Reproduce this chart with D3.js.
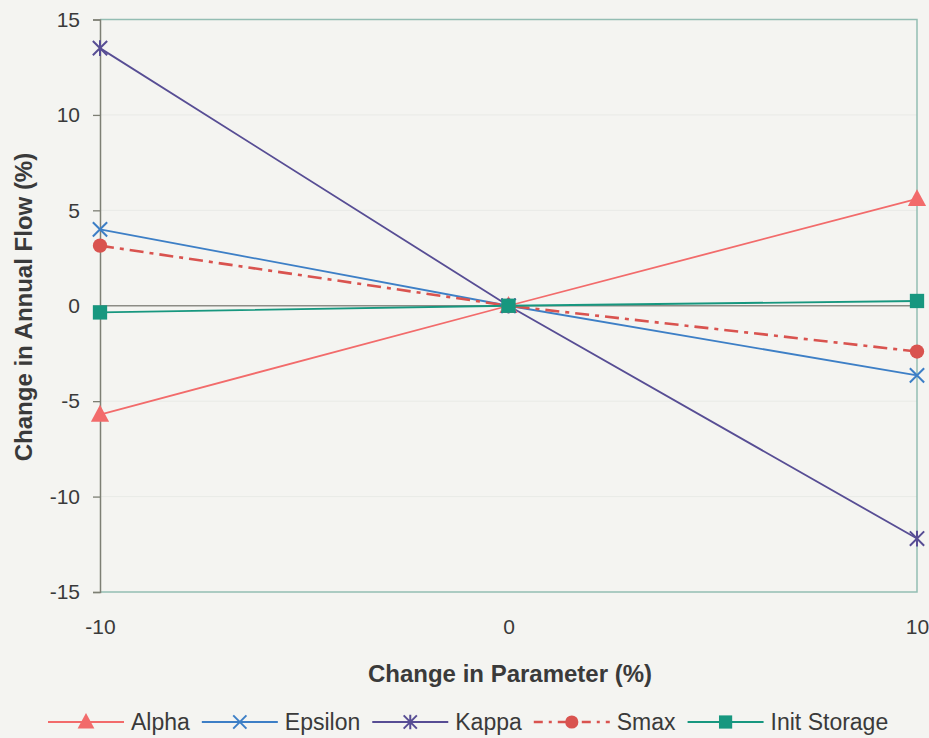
<!DOCTYPE html>
<html><head><meta charset="utf-8">
<script src="https://cdn.jsdelivr.net/npm/d3@7"></script>
<style>body{margin:0;background:#f4f4f1;}svg{display:block;}</style>
</head><body><svg id="c" width="929" height="738"></svg>
<script>
const xValues = [-10, 0, 10];
const alpha = [-5.7, 0, 5.6];
const epsilon = [4.0, 0, -3.65];
const kappa = [13.5, 0, -12.2];
const smax = [3.15, 0, -2.4];
const initStorage = [-0.35, 0, 0.25];
const seriesNames = ["Alpha", "Epsilon", "Kappa", "Smax", "Init Storage"];
const yTicks = [-15, -10, -5, 0, 5, 10, 15];
const xTicks = [-10, 0, 10];

const series = [
  {name: seriesNames[0], values: alpha, color: "#f26b6b", marker: "triangle", dash: null},
  {name: seriesNames[1], values: epsilon, color: "#3d7fc6", marker: "x", dash: null},
  {name: seriesNames[2], values: kappa, color: "#574d94", marker: "star", dash: null},
  {name: seriesNames[3], values: smax, color: "#d9534f", marker: "circle", dash: "14,6,4,6"},
  {name: seriesNames[4], values: initStorage, color: "#17977f", marker: "square", dash: null}
];

const FONT = "Liberation Sans, Arial, sans-serif";
const fmt = d => String(d);
const svg = d3.select("#c");
const x = d3.scaleLinear().domain([-10, 10]).range([100, 917]);
const y = d3.scaleLinear().domain([-15, 15]).range([592, 19.5]);

// faint gridlines
svg.append("g").selectAll("line").data(yTicks.filter(d => d !== 0 && d !== 15 && d !== -15)).join("line")
  .attr("x1", x(-10)).attr("x2", x(10)).attr("y1", d => y(d)).attr("y2", d => y(d))
  .attr("stroke", "#e8eae6").attr("stroke-width", 1);

// border top/right/bottom
svg.append("path").attr("d", `M${x(-10)},${y(15)}H${x(10)}V${y(-15)}H${x(-10)}`)
  .attr("fill", "none").attr("stroke", "#93bdb3").attr("stroke-width", 1.5);

// zero line
svg.append("line").attr("x1", x(-10)).attr("x2", x(10)).attr("y1", y(0)).attr("y2", y(0))
  .attr("stroke", "#8c8c86").attr("stroke-width", 1.3);

// y axis
const yAxis = d3.axisLeft(y).tickValues(yTicks).tickSize(7).tickPadding(13).tickFormat(fmt);
const ga = svg.append("g").attr("transform", `translate(${x(-10)},0)`).call(yAxis);
ga.select(".domain").attr("stroke", "#7d7f74").attr("stroke-width", 1.5);
ga.selectAll(".tick line").attr("stroke", "#7d7f74").attr("stroke-width", 1.3);
ga.selectAll("text").attr("font-family", FONT).attr("font-size", 21).attr("fill", "#3a3a3a");

// x axis labels
const xAxis = d3.axisBottom(x).tickValues(xTicks).tickSize(0).tickPadding(27).tickFormat(fmt);
const gx = svg.append("g").attr("transform", `translate(0,${y(-15)})`).call(xAxis);
gx.select(".domain").remove();
gx.selectAll("text").attr("font-family", FONT).attr("font-size", 21).attr("fill", "#3a3a3a");

// axis titles
svg.append("text").attr("x", 510).attr("y", 682).attr("text-anchor", "middle")
  .attr("font-family", FONT).attr("font-weight", "bold").attr("font-size", 24).attr("fill", "#3a3a3a")
  .text("Change in Parameter (%)");
svg.append("text").attr("transform", "translate(32,307) rotate(-90)").attr("text-anchor", "middle")
  .attr("font-family", FONT).attr("font-weight", "bold").attr("font-size", 24).attr("fill", "#3a3a3a")
  .text("Change in Annual Flow (%)");

function drawMarker(g, type, color, cx, cy, s) {
  if (type === "triangle") {
    g.append("path").attr("d", `M${cx},${cy-s*0.75}L${cx+s*0.7},${cy+s*0.55}L${cx-s*0.7},${cy+s*0.55}Z`).attr("fill", color);
  } else if (type === "x") {
    const r = s*0.55;
    g.append("path").attr("d", `M${cx-r},${cy-r}L${cx+r},${cy+r}M${cx-r},${cy+r}L${cx+r},${cy-r}`).attr("stroke", color).attr("stroke-width", 2);
  } else if (type === "star") {
    const r = s*0.55;
    g.append("path").attr("d", `M${cx-r},${cy-r}L${cx+r},${cy+r}M${cx-r},${cy+r}L${cx+r},${cy-r}M${cx},${cy-r*1.1}V${cy+r*1.1}`).attr("stroke", color).attr("stroke-width", 2);
  } else if (type === "circle") {
    g.append("circle").attr("cx", cx).attr("cy", cy).attr("r", s*0.55).attr("fill", color);
  } else if (type === "square") {
    const h = s*0.55;
    g.append("rect").attr("x", cx-h).attr("y", cy-h).attr("width", 2*h).attr("height", 2*h).attr("fill", color);
  }
}

const line = d3.line().x((d, i) => x(xValues[i])).y(d => y(d));
series.forEach(s => {
  svg.append("path").datum(s.values).attr("d", line).attr("fill", "none")
    .attr("stroke", s.color).attr("stroke-width", s.dash ? 2.6 : 1.8)
    .attr("stroke-dasharray", s.dash);
});
series.forEach(s => {
  const g = svg.append("g");
  s.values.forEach((v, i) => drawMarker(g, s.marker, s.color, x(xValues[i]), y(v), 13));
});

// legend
const leg = svg.append("g");
let lx = 48;
const ly = 722;
series.forEach(s => {
  const g = leg.append("g");
  g.append("line").attr("x1", lx).attr("x2", lx+76).attr("y1", ly).attr("y2", ly)
    .attr("stroke", s.color).attr("stroke-width", s.dash ? 2.4 : 1.8).attr("stroke-dasharray", s.dash ? "9,6,3,6" : null);
  drawMarker(g, s.marker, s.color, lx+38, ly, 12);
  const t = g.append("text").attr("x", lx+83).attr("y", ly+8)
    .attr("font-family", FONT).attr("font-size", 23).attr("fill", "#3a3a3a")
    .text(s.name);
  lx += 83 + t.node().getComputedTextLength() + 12;
});
</script></body></html>
